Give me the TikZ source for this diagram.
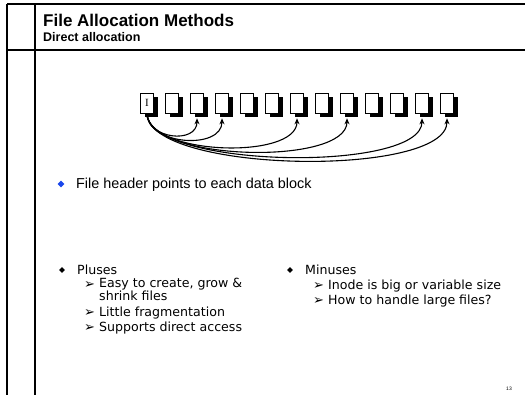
\documentclass[tikz,border=0pt]{standalone}
\usepackage{fontspec}
\setmainfont{Liberation Sans}
\newfontfamily\comicfont{DejaVu Sans}
\newfontfamily\blkfont{Liberation Serif}
\usetikzlibrary{shadows,arrows.meta,shapes.geometric}

\definecolor{bulletblue}{RGB}{25,70,235}

\def\subarrow{\comicfont\fontsize{13}{12}\selectfont ➢}

\tikzset{
  blk/.style={draw, line width=.6pt, fill=white, minimum width=13pt, minimum height=20pt, inner sep=0pt,
    drop shadow={shadow xshift=4.5pt, shadow yshift=-4.5pt, fill=black, opacity=1}},
  ptr/.style={line width=1.1pt, -{Stealth[length=6pt,width=5pt]}},
  bul/.style={diamond, fill=black, inner sep=0pt, minimum size=6pt},
  comic/.style={anchor=base west, font=\comicfont\fontsize{12.6}{12}\selectfont, inner sep=0pt, align=left},
  sub/.style={anchor=base west, inner sep=0pt}
}

\begin{document}
\begin{tikzpicture}[x=1pt,y=-1pt]
	\useasboundingbox (0,0) rectangle (525,395);

	% slide frame
	\draw[line width=2.5pt] (7,4) -- (7,395);
	\draw[line width=1.5pt] (7,4) -- (525,4);
	\draw[line width=1.8pt] (35,4) -- (35,395);
	\draw[line width=1.5pt] (7,50) -- (525,50);

	% title
	\node[anchor=base west, inner sep=0pt, font=\bfseries\fontsize{17}{20}\selectfont] (title) at (43,27) {File Allocation Methods};
	\node[anchor=base west, inner sep=0pt, font=\bfseries\fontsize{12.5}{15}\selectfont] (subtitle) at (43,42) {Direct allocation};

	% inode + data blocks
	\node[blk, font=\blkfont\fontsize{11}{12}\selectfont] (b1) at (147,103) {I};
	\foreach \i in {2,...,13}
		\node[blk] (b\i) at ({147+25*(\i-1)},103) {};

	% pointers
	\foreach \t/\h in {3/26,4/32,7/42,9/48,12/55,13/60}
		\draw[ptr] (b1.south) .. controls +(0,\h) and +(0,\h) .. ([yshift=-5pt]b\t.south);

	% first bullet
	\node[bul, fill=bulletblue, minimum size=7pt] (d1) at (61,184) {};
	\node[anchor=base west, inner sep=0pt, font=\fontsize{14.4}{17}\selectfont] (hdr) at (76,189) {File header points to each data block};

	% pluses
	\node[bul] (d2) at (62,270) {};
	\node[comic] (plus) at (77,275) {Pluses};
	\node[sub] (pa1) at (84,289) {\subarrow};
	\node[comic] (p1) at (99,301) {Easy to create, grow \&\\shrink files};
	\node[sub] (pa2) at (84,317) {\subarrow};
	\node[comic] (p2) at (99,317) {Little fragmentation};
	\node[sub] (pa3) at (84,332) {\subarrow};
	\node[comic] (p3) at (99,332) {Supports direct access};

	% minuses
	\node[bul] (d3) at (290,270) {};
	\node[comic] (minus) at (305,275) {Minuses};
	\node[sub] (ma1) at (313,290) {\subarrow};
	\node[comic] (m1) at (328,290) {Inode is big or variable size};
	\node[sub] (ma2) at (313,305) {\subarrow};
	\node[comic] (m2) at (328,305) {How to handle large files?};

	% page number
	\node[inner sep=0pt, font=\fontsize{5}{6}\selectfont] (pg) at (509,389) {13};
\end{tikzpicture}
\end{document}
